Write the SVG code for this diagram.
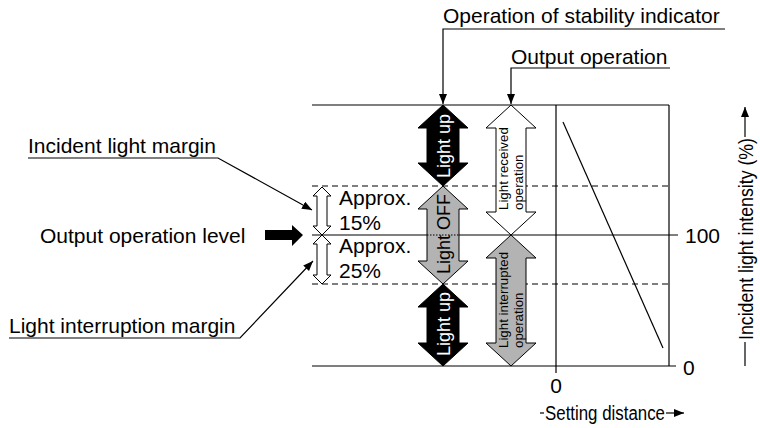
<svg xmlns="http://www.w3.org/2000/svg" width="760" height="428" viewBox="0 0 760 428">
<style>
text{font-family:"Liberation Sans",Arial,sans-serif;fill:#000}
.l{font-size:21px}
.m{font-size:18px}
.s{font-size:13.3px}
.c{font-size:20px}
.ln{stroke:#000;stroke-width:1.2;fill:none}
.d{stroke:#000;stroke-width:1.2;fill:none;stroke-dasharray:6 4}
.blk{fill:#000;stroke:#000;stroke-width:1}
.gry{fill:#b3b3b3;stroke:#000;stroke-width:1}
.wht{fill:#fff;stroke:#000;stroke-width:1}
</style>
<defs>
<marker id="ah" markerUnits="userSpaceOnUse" markerWidth="12" markerHeight="10" refX="10" refY="4" orient="auto">
<path d="M0,0 L10,4 L0,8 Z" fill="#000"/>
</marker>
</defs>
<g id="chart">
<line class="ln" x1="312" y1="105" x2="669" y2="105"/>
<line class="ln" x1="312" y1="366" x2="676" y2="366"/>
<line class="d" x1="312" y1="186" x2="669" y2="186"/>
<line class="d" x1="312" y1="284" x2="669" y2="284"/>
<line class="ln" x1="312" y1="235" x2="678" y2="235"/>
<line class="ln" x1="556" y1="105" x2="556" y2="373"/>
<line class="ln" x1="669" y1="105" x2="669" y2="366"/>
<line class="ln" x1="563" y1="122" x2="663" y2="348"/>
<text class="l" x="685" y="243">100</text>
<text class="l" x="683" y="375">0</text>
<text class="l" x="556" y="393" text-anchor="middle">0</text>
</g>
<g id="x-axis">
<line class="ln" x1="540" y1="413" x2="544" y2="413"/>
<text class="c" x="545" y="420" textLength="120" lengthAdjust="spacingAndGlyphs">Setting distance</text>
<line class="ln" x1="666" y1="413" x2="684" y2="413" marker-end="url(#ah)"/>
</g>
<g id="y-axis">
<line class="ln" x1="745" y1="366" x2="745" y2="342"/>
<line class="ln" x1="745" y1="137" x2="745" y2="107" marker-end="url(#ah)"/>
<text class="c" transform="translate(753,239) rotate(-90)" text-anchor="middle" textLength="202" lengthAdjust="spacingAndGlyphs">Incident light intensity (%)</text>
</g>
<g id="stability-top">
<path class="blk" d="M443,105 L468,128 L459,128 L459,163 L468,163 L443,186 L418,163 L427,163 L427,128 L418,128 Z"/>
<text class="m" transform="translate(450,146) rotate(-90)" text-anchor="middle" style="fill:#fff">Light up</text>
</g>
<g id="stability-off">
<path class="gry" d="M443,186 L468,209 L459,209 L459,261 L468,261 L443,284 L418,261 L427,261 L427,209 L418,209 Z"/>
<line x1="427" y1="235" x2="459" y2="235" stroke="#000" stroke-width="1" stroke-dasharray="1.5 1.5"/>
<text class="m" transform="translate(450,234) rotate(-90)" text-anchor="middle">Light OFF</text>
</g>
<g id="stability-bottom">
<path class="blk" d="M443,284 L468,307 L459,307 L459,343 L468,343 L443,366 L418,343 L427,343 L427,307 L418,307 Z"/>
<text class="m" transform="translate(450,324) rotate(-90)" text-anchor="middle" style="fill:#fff">Light up</text>
</g>
<g id="output-received">
<path class="wht" d="M511,105 L536,128 L526,128 L526,212 L536,212 L511,235 L486,212 L496,212 L496,128 L486,128 Z"/>
<g transform="translate(511,210) rotate(-90)">
<text class="s" x="0" y="-3">Light received</text>
<text class="s" x="0" y="12">operation</text>
</g>
</g>
<g id="output-interrupted">
<path class="gry" d="M511,235 L536,258 L526,258 L526,343 L536,343 L511,366 L486,343 L496,343 L496,258 L486,258 Z"/>
<g transform="translate(511,348) rotate(-90)">
<text class="s" x="0" y="-3">Light interrupted</text>
<text class="s" x="0" y="12">operation</text>
</g>
</g>
<g id="margin-incident">
<path class="wht" d="M322,187 L331,196 L327,196 L327,226 L331,226 L322,235 L313,226 L317,226 L317,196 L313,196 Z"/>
<text class="l" x="339" y="205">Approx.</text>
<text class="l" x="339" y="230">15%</text>
</g>
<g id="margin-interruption">
<path class="wht" d="M322,235 L331,244 L327,244 L327,275 L331,275 L322,284 L313,275 L317,275 L317,244 L313,244 Z"/>
<text class="l" x="339" y="253">Approx.</text>
<text class="l" x="339" y="278">25%</text>
</g>
<g id="label-stability">
<text class="l" x="443" y="23">Operation of stability indicator</text>
</g>
<g id="label-output">
<text class="l" x="511" y="64">Output operation</text>
</g>
<g id="label-incident">
<text class="l" x="28" y="153">Incident light margin</text>
</g>
<g id="label-level">
<text class="l" x="40" y="243">Output operation level</text>
<path d="M265,230 L292,230 L292,225 L303,235 L292,246 L292,240 L265,240 Z" fill="#000"/>
</g>
<g id="label-interruption">
<text class="l" x="9" y="333">Light interruption margin</text>
</g>
<g id="connectors">
<polyline class="ln" points="725,29 443,29 443,104" marker-end="url(#ah)"/>
<polyline class="ln" points="670,68 511,68 511,104" marker-end="url(#ah)"/>
<polyline class="ln" points="28,158 218,158 312,210" marker-end="url(#ah)"/>
<polyline class="ln" points="9,338 240,338 313,261" marker-end="url(#ah)"/>
</g>
</svg>
